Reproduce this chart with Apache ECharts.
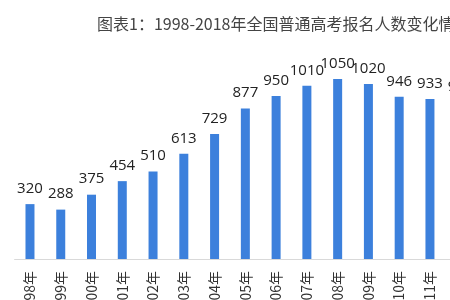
<!DOCTYPE html>
<html><head><meta charset="utf-8">
<script src="https://cdn.jsdelivr.net/npm/echarts@6/dist/echarts.min.js"></script>
<style>html,body{margin:0;padding:0;overflow:hidden;width:450px;height:300px;background:#fff}#c{width:520px;height:300px}</style>
</head><body><div id="c"></div>
<script>
const titleText = '图表1：1998-2018年全国普通高考报名人数变化情况';
const categories = ['1998年','1999年','2000年','2001年','2002年','2003年','2004年','2005年','2006年','2007年','2008年','2009年','2010年','2011年','2012年'];
const applicants = [320,288,375,454,510,613,729,877,950,1010,1050,1020,946,933,915];
const chart = echarts.init(document.getElementById('c'), null, {renderer:'canvas'});
chart.setOption({
  animation:false,
  title:{text:titleText,left:92,top:11,textStyle:{fontFamily:'Noto Sans CJK SC',fontSize:16,fontWeight:'normal',color:'#444'}},
  grid:{left:14.6,width:461.5,top:53.2,bottom:41,containLabel:false,outerBoundsMode:'none'},
  xAxis:{type:'category',data:categories,
    axisLine:{lineStyle:{color:'#d9d9d9'}},axisTick:{show:false},
    axisLabel:{rotate:90,margin:12,fontSize:14,color:'#333',fontFamily:'Noto Sans CJK SC',interval:0}},
  yAxis:{type:'value',min:0,max:1200,show:false,splitLine:{show:false}},
  series:[{type:'bar',data:applicants,barWidth:9,itemStyle:{color:'#3c80dc'},
    label:{show:true,position:'top',distance:8,fontSize:15,color:'#222',fontFamily:'Open Sans'}}]
});
</script></body></html>
